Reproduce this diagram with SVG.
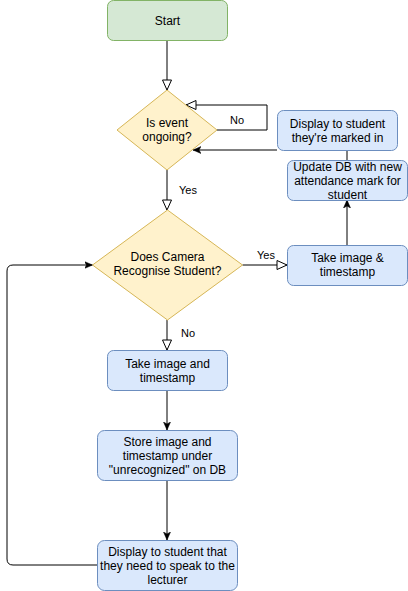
<svg xmlns="http://www.w3.org/2000/svg" width="408" height="591" viewBox="0 0 408 591">
<defs>
<style>
.t{font-family:"Liberation Sans",Arial,sans-serif;font-size:12px;fill:#000;text-anchor:middle}
.l{font-family:"Liberation Sans",Arial,sans-serif;font-size:11px;fill:#000}
.g{fill:#d5e8d4;stroke:#82b366}
.y{fill:#fff2cc;stroke:#d6b656}
.b{fill:#dae8fc;stroke:#6c8ebf}
.c{fill:none;stroke:#000;stroke-width:1}
</style>
<marker id="open" markerUnits="userSpaceOnUse" markerWidth="12" markerHeight="12" refX="10" refY="5" orient="auto" viewBox="-1 -1 12 12">
<path d="M0,0.5 L10,5 L0,9.5 Z" fill="#fff" stroke="#000"/>
</marker>
<marker id="arr" markerUnits="userSpaceOnUse" markerWidth="10" markerHeight="10" refX="8" refY="3.5" orient="auto" viewBox="0 0 10 7">
<path d="M0,0 L8,3.5 L0,7 L2,3.5 Z" fill="#000" stroke="#000" stroke-width="0.5"/>
</marker>
</defs>
<rect width="408" height="591" fill="#fff"/>
<g id="connectors">
<path class="c" d="M167,40 L167,90" marker-end="url(#open)"/>
<path class="c" d="M217,130 L267,130 L267,105 L186,105" marker-end="url(#open)"/>
<path class="c" d="M277,150 L193,150" marker-end="url(#arr)"/>
<path class="c" d="M167,170 L167,210" marker-end="url(#open)"/>
<path class="c" d="M242.5,265 L287,265" marker-end="url(#open)"/>
<path class="c" d="M347,245 L347,200" marker-end="url(#arr)"/>
<path class="c" d="M347,160 L347,150"/>
<path class="c" d="M167,320 L167,350" marker-end="url(#open)"/>
<path class="c" d="M167,390 L167,430" marker-end="url(#arr)"/>
<path class="c" d="M167,480 L167,540" marker-end="url(#arr)"/>
<path class="c" d="M97,565 L13,565 Q7,565 7,559 L7,271 Q7,265 13,265 L92.5,265" marker-end="url(#arr)"/>
<text class="l" x="230" y="124">No</text>
<text class="l" x="179" y="194">Yes</text>
<text class="l" x="257" y="259">Yes</text>
<text class="l" x="181" y="337">No</text>
</g>
<g id="start">
<rect class="g" x="107.5" y="0.5" width="120" height="40" rx="6"/>
<text class="t" x="167.5" y="25">Start</text>
</g>
<g id="event">
<path class="y" d="M167,90 L217,130 L167,170 L117,130 Z"/>
<text class="t" x="167" y="127">Is event</text>
<text class="t" x="167" y="141">ongoing?</text>
</g>
<g id="recognise">
<path class="y" d="M167.5,210 L242.5,265 L167.5,320 L92.5,265 Z"/>
<text class="t" x="167.5" y="261">Does Camera</text>
<text class="t" x="167.5" y="275">Recognise Student?</text>
</g>
<g id="display-marked">
<rect class="b" x="277.5" y="110.5" width="120" height="40" rx="6"/>
<text class="t" x="337.5" y="128">Display to student</text>
<text class="t" x="337.5" y="142">they're marked in</text>
</g>
<g id="update-db">
<rect class="b" x="287.5" y="160.5" width="120" height="40" rx="6"/>
<text class="t" x="347.5" y="171">Update DB with new</text>
<text class="t" x="347.5" y="185">attendance mark for</text>
<text class="t" x="347.5" y="199">student</text>
</g>
<g id="take-image-yes">
<rect class="b" x="287.5" y="245.5" width="120" height="40" rx="6"/>
<text class="t" x="347.5" y="262">Take image &amp;</text>
<text class="t" x="347.5" y="276">timestamp</text>
</g>
<g id="take-image-no">
<rect class="b" x="107.5" y="350.5" width="120" height="40" rx="6"/>
<text class="t" x="167.5" y="368">Take image and</text>
<text class="t" x="167.5" y="382">timestamp</text>
</g>
<g id="store">
<rect class="b" x="97.5" y="430.5" width="140" height="50" rx="7"/>
<text class="t" x="167.5" y="446">Store image and</text>
<text class="t" x="167.5" y="460">timestamp under</text>
<text class="t" x="167.5" y="474">"unrecognized" on DB</text>
</g>
<g id="display-lecturer">
<rect class="b" x="97.5" y="540.5" width="140" height="50" rx="7"/>
<text class="t" x="167.5" y="556">Display to student that</text>
<text class="t" x="167.5" y="570">they need to speak to the</text>
<text class="t" x="167.5" y="584">lecturer</text>
</g>
</svg>
